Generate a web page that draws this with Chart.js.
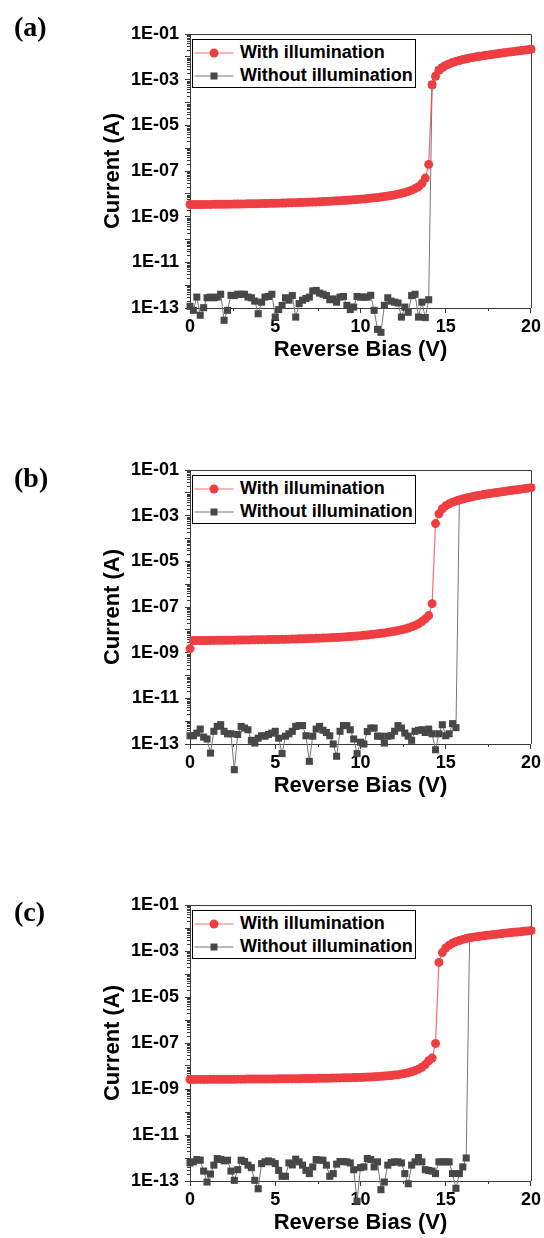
<!DOCTYPE html>
<html>
<head>
<meta charset="utf-8">
<script src="https://cdn.jsdelivr.net/npm/chart.js@4.4.1/dist/chart.umd.min.js"></script>
<style>
  html, body { margin: 0; padding: 0; background: #fff; overflow: hidden; }
  #page { position: relative; width: 544px; height: 1238px; }
  .panel { position: absolute; left: 0; }
  .tag { position: absolute; left: 14px; line-height: 30px; font: bold 28px "Liberation Serif", "Times New Roman", serif; color: #000; }
  .legend { position: absolute; left: 192px; width: 224px; height: 49px; box-sizing: border-box;
            border: 1.5px solid #000; background: #fff; padding-top: 1px;
            font: bold 18px "Liberation Sans", Arial, sans-serif; color: #000; }
  .legend .row { display: flex; align-items: center; height: 23px; white-space: nowrap; }
  .legend svg { flex: none; margin-right: 1px; }
</style>
</head>
<body>
<div id="page"></div>
<script>
// reverse bias sweep, 0.2 V steps
var bias = [0,0.2,0.4,0.6,0.8,1,1.2,1.4,1.6,1.8,2,2.2,2.4,2.6,2.8,3,3.2,3.4,3.6,3.8,
  4,4.2,4.4,4.6,4.8,5,5.2,5.4,5.6,5.8,6,6.2,6.4,6.6,6.8,7,7.2,7.4,7.6,7.8,
  8,8.2,8.4,8.6,8.8,9,9.2,9.4,9.6,9.8,10,10.2,10.4,10.6,10.8,11,11.2,11.4,11.6,11.8,
  12,12.2,12.4,12.6,12.8,13,13.2,13.4,13.6,13.8,14,14.2,14.4,14.6,14.8,15,15.2,15.4,15.6,15.8,
  16,16.2,16.4,16.6,16.8,17,17.2,17.4,17.6,17.8,18,18.2,18.4,18.6,18.8,19,19.2,19.4,19.6,19.8,20];

// (a)
var illumA = [3.40e-9,3.40e-9,3.41e-9,3.42e-9,3.43e-9,3.44e-9,3.45e-9,3.46e-9,3.48e-9,3.49e-9,
  3.51e-9,3.52e-9,3.54e-9,3.56e-9,3.58e-9,3.60e-9,3.62e-9,3.64e-9,3.66e-9,3.69e-9,
  3.71e-9,3.74e-9,3.77e-9,3.80e-9,3.83e-9,3.86e-9,3.90e-9,3.94e-9,3.98e-9,4.02e-9,
  4.06e-9,4.11e-9,4.16e-9,4.21e-9,4.26e-9,4.32e-9,4.38e-9,4.44e-9,4.51e-9,4.58e-9,
  4.66e-9,4.74e-9,4.83e-9,4.92e-9,5.02e-9,5.13e-9,5.25e-9,5.38e-9,5.52e-9,5.67e-9,
  5.83e-9,6.00e-9,6.20e-9,6.42e-9,6.66e-9,6.93e-9,7.24e-9,7.59e-9,7.99e-9,8.45e-9,
  9.0e-9,9.7e-9,1.05e-8,1.15e-8,1.28e-8,1.45e-8,1.7e-8,2.05e-8,2.8e-8,4.9e-8,
  1.95e-7,6.0e-4,1.4e-3,2.6e-3,3.4e-3,4.2e-3,4.9e-3,5.6e-3,6.3e-3,6.9e-3,
  7.6e-3,8.2e-3,8.8e-3,9.4e-3,1.0e-2,1.06e-2,1.12e-2,1.18e-2,1.24e-2,1.30e-2,
  1.36e-2,1.43e-2,1.50e-2,1.57e-2,1.64e-2,1.72e-2,1.80e-2,1.88e-2,1.96e-2,2.05e-2,2.14e-2];
var darkA = [1.18e-13,7.9e-14,3.0e-13,4.8e-14,1.03e-13,2.8e-13,3.0e-13,2.8e-13,3.0e-13,4.0e-13,
  2.9e-14,7.9e-14,3.6e-13,3.5e-13,4.0e-13,4.0e-13,4.0e-13,3.0e-13,2.8e-13,2.0e-13,
  5.6e-14,1.8e-13,3.0e-13,3.2e-13,4.0e-13,4.0e-14,8.5e-14,1.3e-13,2.8e-13,2.2e-13,
  3.5e-13,4.0e-14,1.55e-13,2.2e-13,2.6e-13,3.0e-13,5.6e-13,5.9e-13,4.5e-13,4.0e-13,
  3.5e-13,2.3e-13,2.5e-13,1.8e-13,3.0e-13,3.2e-13,1.3e-13,8.5e-14,1.1e-13,3.2e-13,
  3.0e-13,3.0e-13,3.0e-13,3.6e-13,7.9e-14,1.16e-14,8.6e-15,1.3e-13,2.8e-13,2.0e-13,
  1.8e-13,1.66e-13,4.0e-14,1.1e-13,6.5e-14,3.5e-13,4.0e-13,4.0e-14,1.8e-13,3.8e-14,
  2.3e-13,6.0e-4,1.4e-3,2.6e-3,3.4e-3,4.2e-3,4.9e-3,5.6e-3,6.3e-3,6.9e-3,
  7.6e-3,8.2e-3,8.8e-3,9.4e-3,1.0e-2,1.06e-2,1.12e-2,1.18e-2,1.24e-2,1.30e-2,
  1.36e-2,1.43e-2,1.50e-2,1.57e-2,1.64e-2,1.72e-2,1.80e-2,1.88e-2,1.96e-2,2.05e-2,2.14e-2];

// (b)
var illumB = [1.5e-9,3.40e-9,3.40e-9,3.41e-9,3.42e-9,3.43e-9,3.44e-9,3.45e-9,3.46e-9,3.48e-9,
  3.49e-9,3.51e-9,3.52e-9,3.54e-9,3.56e-9,3.58e-9,3.60e-9,3.62e-9,3.64e-9,3.66e-9,
  3.68e-9,3.70e-9,3.72e-9,3.74e-9,3.76e-9,3.79e-9,3.82e-9,3.85e-9,3.88e-9,3.91e-9,
  3.94e-9,3.98e-9,4.02e-9,4.06e-9,4.10e-9,4.15e-9,4.20e-9,4.25e-9,4.31e-9,4.37e-9,
  4.43e-9,4.50e-9,4.58e-9,4.66e-9,4.75e-9,4.85e-9,4.96e-9,5.08e-9,5.22e-9,5.38e-9,
  5.55e-9,5.74e-9,5.95e-9,6.18e-9,6.43e-9,6.70e-9,7.00e-9,7.35e-9,7.75e-9,8.20e-9,
  8.7e-9,9.3e-9,1.0e-8,1.09e-8,1.2e-8,1.35e-8,1.55e-8,1.85e-8,2.3e-8,3.0e-8,
  4.2e-8,1.4e-7,4.5e-4,1.2e-3,2.0e-3,2.7e-3,3.3e-3,3.9e-3,4.4e-3,4.9e-3,
  5.4e-3,5.9e-3,6.4e-3,6.9e-3,7.4e-3,7.9e-3,8.4e-3,8.9e-3,9.4e-3,9.9e-3,
  1.04e-2,1.09e-2,1.14e-2,1.20e-2,1.26e-2,1.32e-2,1.38e-2,1.45e-2,1.52e-2,1.60e-2,1.68e-2];
var darkB = [2.3e-13,2.3e-13,3.0e-13,4.5e-13,2.0e-13,1.66e-13,4.0e-14,3.6e-13,5.9e-13,7.0e-13,
  3.6e-13,2.8e-13,2.8e-13,7.5e-15,2.6e-13,5.9e-13,5.0e-13,4.2e-13,1.45e-13,1.1e-13,
  1.8e-13,2.3e-13,2.2e-13,2.6e-13,3.0e-13,3.6e-13,1.8e-13,3.8e-14,2.2e-13,2.8e-13,
  3.6e-13,5.9e-13,6.4e-13,6.4e-13,2.3e-13,1.74e-14,2.2e-13,4.5e-13,5.9e-13,4.0e-13,
  3.2e-13,2.3e-13,1.0e-13,2.9e-14,3.6e-13,6.4e-13,6.4e-13,4.2e-13,1.66e-13,3.8e-14,
  1.2e-13,1.0e-13,3.5e-13,5.0e-13,5.0e-13,2.2e-13,2.2e-13,1.1e-13,2.2e-13,2.3e-13,
  3.6e-13,6.4e-13,5.0e-13,3.0e-13,2.2e-13,1.45e-13,3.6e-13,4.0e-13,4.2e-13,3.2e-13,
  4.5e-13,2.8e-13,5.6e-14,2.8e-13,7.0e-13,2.3e-13,2.8e-13,7.8e-13,5.2e-13,4.9e-3,
  5.4e-3,5.9e-3,6.4e-3,6.9e-3,7.4e-3,7.9e-3,8.4e-3,8.9e-3,9.4e-3,9.9e-3,
  1.04e-2,1.09e-2,1.14e-2,1.20e-2,1.26e-2,1.32e-2,1.38e-2,1.45e-2,1.52e-2,1.60e-2,1.68e-2];

// (c)
var illumC = [2.60e-9,2.60e-9,2.61e-9,2.61e-9,2.62e-9,2.62e-9,2.63e-9,2.63e-9,2.64e-9,2.64e-9,
  2.65e-9,2.65e-9,2.66e-9,2.66e-9,2.67e-9,2.68e-9,2.68e-9,2.69e-9,2.70e-9,2.70e-9,
  2.71e-9,2.72e-9,2.73e-9,2.73e-9,2.74e-9,2.75e-9,2.76e-9,2.77e-9,2.78e-9,2.79e-9,
  2.80e-9,2.81e-9,2.82e-9,2.84e-9,2.85e-9,2.86e-9,2.88e-9,2.89e-9,2.91e-9,2.93e-9,
  2.95e-9,2.97e-9,2.99e-9,3.01e-9,3.03e-9,3.06e-9,3.08e-9,3.11e-9,3.14e-9,3.17e-9,
  3.20e-9,3.25e-9,3.30e-9,3.36e-9,3.42e-9,3.49e-9,3.57e-9,3.66e-9,3.76e-9,3.88e-9,
  4.02e-9,4.2e-9,4.45e-9,4.75e-9,5.1e-9,5.6e-9,6.3e-9,7.3e-9,8.8e-9,1.15e-8,
  1.7e-8,2.2e-8,9.5e-8,3.2e-4,8.5e-4,1.35e-3,1.8e-3,2.2e-3,2.55e-3,2.85e-3,
  3.2e-3,3.5e-3,3.75e-3,4.0e-3,4.2e-3,4.4e-3,4.6e-3,4.8e-3,5.0e-3,5.2e-3,
  5.4e-3,5.65e-3,5.9e-3,6.1e-3,6.3e-3,6.5e-3,6.7e-3,6.95e-3,7.2e-3,7.45e-3,7.7e-3];
var darkC = [6.1e-13,6.8e-13,8.6e-13,8.0e-13,2.7e-13,9.0e-14,2.0e-13,4.9e-13,9.5e-13,8.6e-13,
  7.5e-13,8.0e-13,2.7e-13,1.07e-13,3.1e-13,8.0e-13,7.0e-13,4.9e-13,3.8e-13,1.07e-13,
  4.6e-14,5.7e-13,6.8e-13,7.5e-13,6.8e-13,5.7e-13,2.9e-13,1.6e-13,1.6e-13,6.1e-13,
  5.0e-13,8.9e-13,6.8e-13,4.9e-13,2.9e-13,2.1e-13,4.1e-13,8.6e-13,8.0e-13,8.0e-13,
  4.9e-13,1.6e-13,2.1e-13,5.4e-13,7.0e-13,7.0e-13,6.8e-13,6.1e-13,3.1e-13,1.33e-14,
  3.8e-13,4.1e-13,9.5e-13,8.6e-13,4.1e-13,6.8e-13,4.2e-14,9.0e-14,4.9e-13,6.4e-13,
  6.8e-13,6.8e-13,6.1e-13,2.1e-13,7.6e-14,4.9e-13,6.8e-13,1.05e-12,6.8e-13,3.1e-13,
  2.9e-13,2.7e-13,2.1e-13,6.8e-13,6.8e-13,6.8e-13,6.8e-13,2.1e-13,4.8e-14,2.1e-13,
  4.1e-13,1.0e-12,3.75e-3,4.0e-3,4.2e-3,4.4e-3,4.6e-3,4.8e-3,5.0e-3,5.2e-3,
  5.4e-3,5.65e-3,5.9e-3,6.1e-3,6.3e-3,6.5e-3,6.7e-3,6.95e-3,7.2e-3,7.45e-3,7.7e-3];

var seriesNames = ['With illumination', 'Without illumination'];
var panelTags = ['(a)', '(b)', '(c)'];

// axis ticks
var decades = [1e-13,1e-12,1e-11,1e-10,1e-9,1e-8,1e-7,1e-6,1e-5,1e-4,1e-3,1e-2,1e-1];
var yTickValues = [1e-13,1e-11,1e-9,1e-7,1e-5,1e-3,1e-1];
var yTickLabels = ['1E-13','1E-11','1E-09','1E-07','1E-05','1E-03','1E-01'];
var xTickValues = [0,5,10,15,20];
var xMinorTicks = [2.5,7.5,12.5,17.5];

var RED = 'rgb(239,62,66)';
var RED_LINE = 'rgba(239,62,66,0.75)';
var GREY = '#474747';
var GREY_LINE = '#777';
var AXIS = '#3a3a3a';
var SANS = '"Liberation Sans", Arial, sans-serif';

var CANVAS_H = 390, PAD_TOP = 34, PLOT_LEFT = 190, PAD_RIGHT = 13;

var panels = [
  { tagTop: 11,  plotTop: 34,  plotBottom: 308,  legendTop: 39,  illum: illumA, dark: darkA },
  { tagTop: 462, plotTop: 470, plotBottom: 744,  legendTop: 475, illum: illumB, dark: darkB },
  { tagTop: 896, plotTop: 905, plotBottom: 1181, legendTop: 910, illum: illumC, dark: darkC }
];

Chart.defaults.font.family = SANS;
Chart.defaults.color = '#000';

// top/right frame lines plus the short minor ticks
var frameTicks = {
  id: 'frameTicks',
  beforeDatasetsDraw: function(chart) {
    var ctx = chart.ctx, a = chart.chartArea, xs = chart.scales.x, ys = chart.scales.y;
    ctx.save();
    ctx.strokeStyle = AXIS;
    ctx.lineWidth = 1;
    ctx.beginPath();
    ctx.moveTo(a.left, a.top + 0.5);
    ctx.lineTo(a.right + 0.5, a.top + 0.5);
    ctx.lineTo(a.right + 0.5, a.bottom);
    decades.slice(0, -1).forEach(function(d) {
      for (var k = 2; k < 10; k++) {
        var py = Math.round(ys.getPixelForValue(k * d)) + 0.5;
        ctx.moveTo(a.left - 3, py);
        ctx.lineTo(a.left, py);
      }
    });
    xMinorTicks.forEach(function(v) {
      var px = Math.round(xs.getPixelForValue(v)) + 0.5;
      ctx.moveTo(px, a.bottom);
      ctx.lineTo(px, a.bottom + 3);
    });
    ctx.stroke();
    ctx.restore();
  }
};

// points below 1E-13 still get drawn: widen the area the point elements test against
var looseArea = {
  id: 'looseArea',
  beforeDatasetDraw: function(chart) {
    var a = chart.chartArea;
    chart.$plotArea = a;
    chart.chartArea = { left: a.left - 20, top: a.top - 20, right: a.right + 20, bottom: a.bottom + 60,
                        width: a.width + 40, height: a.height + 80 };
  },
  afterDatasetDraw: function(chart) {
    chart.chartArea = chart.$plotArea;
  }
};

function legendSample(color, lineColor, square) {
  var mark = square
    ? '<rect x="17.5" y="7.5" width="7" height="7" fill="' + color + '"/>'
    : '<circle cx="21" cy="11" r="4.5" fill="' + color + '"/>';
  return '<svg width="46" height="22"><line x1="1.5" y1="11" x2="40.5" y2="11" stroke="' +
    lineColor + '" stroke-width="1.2"/>' + mark + '</svg>';
}

var page = document.getElementById('page');

panels.forEach(function(p, n) {
  var plotH = p.plotBottom - p.plotTop;
  var xAxisH = CANVAS_H - PAD_TOP - plotH;

  var wrap = document.createElement('div');
  wrap.className = 'panel';
  wrap.style.top = (p.plotTop - PAD_TOP) + 'px';
  var canvas = document.createElement('canvas');
  canvas.width = 544;
  canvas.height = CANVAS_H;
  wrap.appendChild(canvas);
  page.appendChild(wrap);

  var tag = document.createElement('div');
  tag.className = 'tag';
  tag.style.top = p.tagTop + 'px';
  tag.textContent = panelTags[n];
  page.appendChild(tag);

  var legend = document.createElement('div');
  legend.className = 'legend';
  legend.style.top = p.legendTop + 'px';
  legend.innerHTML =
    '<div class="row">' + legendSample(RED, RED_LINE, false) + '<span>' + seriesNames[0] + '</span></div>' +
    '<div class="row">' + legendSample(GREY, GREY_LINE, true) + '<span>' + seriesNames[1] + '</span></div>';
  page.appendChild(legend);

  new Chart(canvas, {
    type: 'line',
    data: {
      datasets: [
        {
          label: seriesNames[0],
          data: bias.map(function(v, i) { return { x: v, y: p.illum[i] }; }),
          borderColor: RED_LINE,
          borderWidth: 1.2,
          backgroundColor: RED,
          pointBackgroundColor: RED,
          pointBorderWidth: 0,
          pointRadius: 4.5,
          pointStyle: 'circle',
          tension: 0,
          clip: false
        },
        {
          label: seriesNames[1],
          data: bias.map(function(v, i) { return { x: v, y: p.dark[i] }; }),
          borderColor: GREY_LINE,
          borderWidth: 1,
          backgroundColor: GREY,
          pointBackgroundColor: GREY,
          pointBorderWidth: 0,
          pointRadius: 5,
          pointStyle: 'rect',
          tension: 0,
          clip: false
        }
      ]
    },
    options: {
      responsive: false,
      animation: false,
      devicePixelRatio: 1,
      layout: { padding: { top: PAD_TOP, right: PAD_RIGHT, left: 0, bottom: 0 } },
      plugins: { legend: { display: false }, tooltip: { enabled: false } },
      scales: {
        x: {
          type: 'linear',
          min: 0,
          max: 20,
          afterBuildTicks: function(s) { s.ticks = xTickValues.map(function(v) { return { value: v }; }); },
          afterFit: function(s) { s.height = xAxisH; },
          ticks: { autoSkip: false, maxRotation: 0, padding: 3, color: '#000',
                   font: { size: 18, weight: 'bold' } },
          grid: { drawOnChartArea: false, tickLength: 5, tickColor: AXIS },
          border: { color: AXIS, width: 1 },
          title: { display: true, text: 'Reverse Bias (V)', color: '#000',
                   font: { size: 22, weight: 'bold' },
                   padding: { top: 0, bottom: xAxisH - 42 - 13.2 } }
        },
        y: {
          type: 'logarithmic',
          min: 1e-13,
          max: 1e-1,
          afterBuildTicks: function(s) { s.ticks = decades.map(function(v) { return { value: v }; }); },
          afterFit: function(s) { s.width = PLOT_LEFT; },
          ticks: {
            autoSkip: false, padding: 6, color: '#000',
            font: { size: 18, weight: 'bold' },
            callback: function(v) {
              for (var i = 0; i < yTickValues.length; i++) {
                if (Math.abs(Math.log10(yTickValues[i]) - Math.log10(v)) < 1e-6) return yTickLabels[i];
              }
              return '';
            }
          },
          grid: { drawOnChartArea: false, tickLength: 5, tickColor: AXIS },
          border: { color: AXIS, width: 1 },
          title: { display: true, text: 'Current (A)', color: '#000',
                   font: { size: 22, weight: 'bold' },
                   padding: { top: 100, bottom: 0 } }
        }
      }
    },
    plugins: [frameTicks, looseArea]
  });
});
</script>
</body>
</html>
